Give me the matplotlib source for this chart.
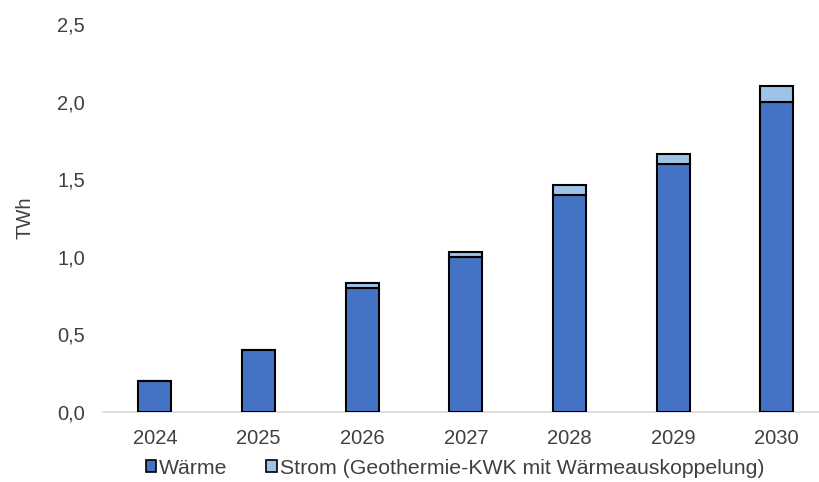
import matplotlib
matplotlib.use("Agg")
import matplotlib.pyplot as plt
from matplotlib.patches import Patch

years = ["2024", "2025", "2026", "2027", "2028", "2029", "2030"]
waerme = [0.2, 0.4, 0.8, 1.0, 1.4, 1.6, 2.0]
strom = [0.0, 0.0, 0.03, 0.03, 0.06, 0.06, 0.1]
yticks = [0.0, 0.5, 1.0, 1.5, 2.0, 2.5]
ytick_labels = ["0,0", "0,5", "1,0", "1,5", "2,0", "2,5"]

plt.rcParams['font.family'] = ['Liberation Sans', 'DejaVu Sans']
txt = '#404040'
c_w = '#4472C4'
c_s = '#9DC3E6'
fs = 14.5

fig = plt.figure(figsize=(8.2, 4.82), dpi=100)
ax = fig.add_axes([103/820, 70/482, 725.6/820, 388/482])
x = range(len(years))
ax.bar(x, waerme, width=0.32, color=c_w, edgecolor='black', linewidth=1.5, zorder=3)
ax.bar(x, strom, width=0.32, bottom=waerme, color=c_s, edgecolor='black', linewidth=1.5, zorder=3)

ax.set_xlim(-0.5, len(years) - 0.5)
ax.set_ylim(0, 2.5)
ax.set_yticks(yticks)
ax.set_yticklabels(ytick_labels)
ax.set_xticks(list(x))
ax.set_xticklabels(years)
ax.tick_params(axis='both', length=0, colors=txt, labelsize=fs)
ax.tick_params(axis='x', pad=12)
ax.tick_params(axis='y', pad=13)
for s in ['top', 'right', 'left']:
    ax.spines[s].set_visible(False)
ax.spines['bottom'].set_color('#D9D9D9')
ax.spines['bottom'].set_linewidth(1.2)
ax.set_ylabel('TWh', color=txt, fontsize=fs, labelpad=16)

handles = [Patch(facecolor=c_w, edgecolor='black', linewidth=1.2),
           Patch(facecolor=c_s, edgecolor='black', linewidth=1.2)]
fig.legend(handles, ['Wärme', 'Strom (Geothermie-KWK mit Wärmeauskoppelung)'],
           loc='center', bbox_to_anchor=(455/820, 14/482), ncol=2, frameon=False,
           fontsize=15.3, labelcolor=txt, handlelength=0.5, handleheight=0.5,
           handletextpad=0.15, columnspacing=1.8)

fig.savefig('out.png', dpi=100)
